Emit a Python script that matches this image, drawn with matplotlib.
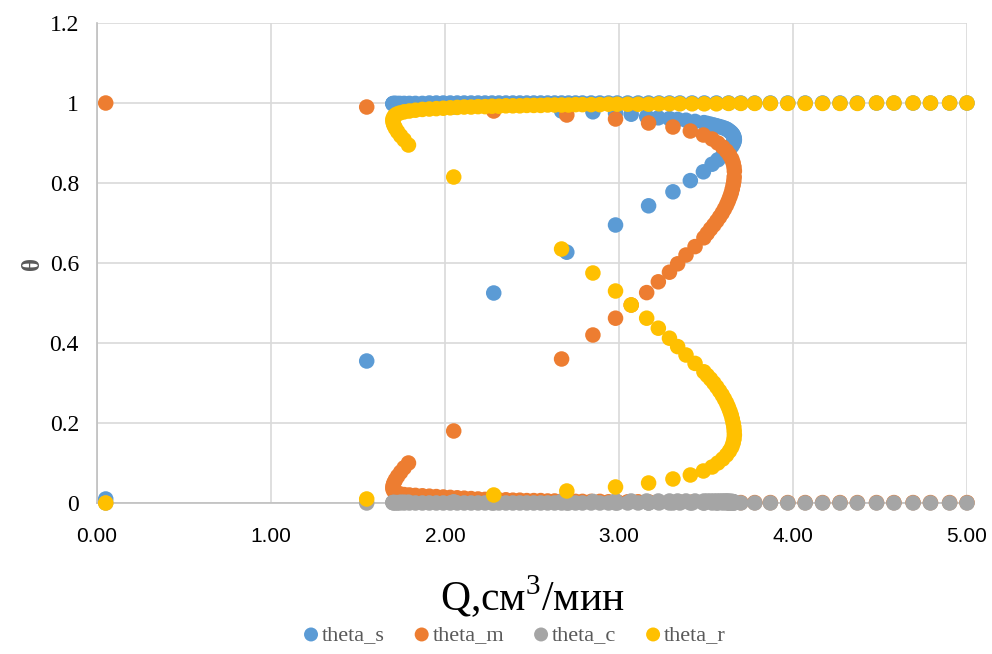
import matplotlib
matplotlib.use("Agg")
import matplotlib.pyplot as plt
from matplotlib.ticker import FormatStrFormatter

plt.rcParams['mathtext.fontset'] = 'custom'
plt.rcParams['mathtext.rm'] = 'Liberation Serif'

# расход Q и доли theta вдоль всей кривой (нижняя ветвь, средняя, верхняя)
Q = [0.05, 1.55, 2.28, 2.70, 2.98, 3.17, 3.31, 3.41, 3.485, 3.535,
     3.568, 3.596, 3.618, 3.635, 3.648, 3.656, 3.661, 3.663,
     3.662, 3.660, 3.656, 3.651, 3.645, 3.637, 3.628, 3.618, 3.606, 3.593,
     3.578, 3.562, 3.545, 3.526, 3.507, 3.488, 3.437, 3.385, 3.337, 3.290,
     3.226, 3.159, 3.070, 2.980, 2.850, 2.670, 2.050, 1.790,
     1.765, 1.745, 1.728, 1.715, 1.706, 1.701, 1.700, 1.703, 1.710, 1.722,
     1.740, 1.765, 1.795, 1.830, 1.870, 1.910, 1.950, 1.990, 2.030, 2.070,
     2.110, 2.150, 2.190, 2.230, 2.270, 2.310, 2.350, 2.390, 2.430, 2.470,
     2.510, 2.550, 2.590, 2.630, 2.670, 2.710, 2.750, 2.790, 2.840, 2.890,
     2.940, 2.990, 3.050, 3.110, 3.170, 3.230, 3.290, 3.350, 3.420, 3.490,
     3.560, 3.630, 3.700, 3.780, 3.870, 3.970, 4.070, 4.170, 4.270, 4.370,
     4.480, 4.580, 4.690, 4.790, 4.900, 5.000]

theta_s = [0.010, 0.355, 0.525, 0.627, 0.695, 0.743, 0.778, 0.806, 0.828, 0.847,
           0.858, 0.868, 0.877, 0.885, 0.892, 0.898, 0.903, 0.908,
           0.912, 0.916, 0.920, 0.923, 0.926, 0.929, 0.932, 0.935, 0.937, 0.939,
           0.941, 0.943, 0.945, 0.947, 0.949, 0.951, 0.954, 0.957, 0.959, 0.961,
           0.963, 0.966, 0.972, 0.975, 0.978, 0.980, 0.990, 0.994,
           0.995, 0.996, 0.997, 0.997, 0.998, 0.998, 0.998, 0.999, 0.999, 0.999,
           0.999, 0.999, 0.999, 0.999, 0.999, 1.000, 1.000, 1.000, 1.000, 1.000,
           1.000, 1.000, 1.000, 1.000, 1.000, 1.000, 1.000, 1.000, 1.000, 1.000,
           1.000, 1.000, 1.000, 1.000, 1.000, 1.000, 1.000, 1.000, 1.000, 1.000,
           1.000, 1.000, 1.000, 1.000, 1.000, 1.000, 1.000, 1.000, 1.000, 1.000,
           1.000, 1.000, 1.000, 1.000, 1.000, 1.000, 1.000, 1.000, 1.000, 1.000,
           1.000, 1.000, 1.000, 1.000, 1.000, 1.000]

theta_m = [1.000, 0.990, 0.980, 0.970, 0.960, 0.950, 0.940, 0.930, 0.920, 0.910,
           0.900, 0.890, 0.880, 0.870, 0.860, 0.850, 0.840, 0.830,
           0.815, 0.805, 0.795, 0.785, 0.775, 0.765, 0.755, 0.745, 0.735, 0.725,
           0.715, 0.705, 0.695, 0.685, 0.674, 0.663, 0.641, 0.620, 0.598, 0.577,
           0.553, 0.526, 0.495, 0.462, 0.420, 0.360, 0.180, 0.100,
           0.088, 0.077, 0.067, 0.058, 0.050, 0.043, 0.037, 0.032, 0.028, 0.025,
           0.023, 0.021, 0.020, 0.019, 0.018, 0.017, 0.016, 0.015, 0.014, 0.013,
           0.012, 0.011, 0.010, 0.009, 0.009, 0.008, 0.008, 0.007, 0.007, 0.006,
           0.006, 0.006, 0.005, 0.005, 0.005, 0.005, 0.004, 0.004, 0.004, 0.004,
           0.003, 0.003, 0.003, 0.003, 0.003, 0.002, 0.002, 0.002, 0.002, 0.002,
           0.002, 0.001, 0.001, 0.001, 0.001, 0.001, 0.001, 0.001, 0.001, 0.001,
           0.001, 0.001, 0.001, 0.001, 0.001, 0.001]

theta_c = [0.000, 0.000, 0.000, 0.000, 0.000, 0.000, 0.000, 0.000, 0.000, 0.000,
           0.000, 0.000, 0.000, 0.000, 0.000, 0.000, 0.000, 0.001,
           0.002, 0.003, 0.003, 0.004, 0.004, 0.004, 0.005, 0.005, 0.005, 0.005,
           0.005, 0.005, 0.005, 0.005, 0.005, 0.005, 0.005, 0.005, 0.005, 0.005,
           0.005, 0.005, 0.005, 0.005, 0.004, 0.004, 0.003, 0.002,
           0.002, 0.002, 0.001, 0.001, 0.001, 0.001, 0.001, 0.001, 0.001, 0.000,
           0.000, 0.000, 0.000, 0.000, 0.000, 0.000, 0.000, 0.000, 0.000, 0.000,
           0.000, 0.000, 0.000, 0.000, 0.000, 0.000, 0.000, 0.000, 0.000, 0.000,
           0.000, 0.000, 0.000, 0.000, 0.000, 0.000, 0.000, 0.000, 0.000, 0.000,
           0.000, 0.000, 0.000, 0.000, 0.000, 0.000, 0.000, 0.000, 0.000, 0.000,
           0.000, 0.000, 0.000, 0.000, 0.000, 0.000, 0.000, 0.000, 0.000, 0.000,
           0.000, 0.000, 0.000, 0.000, 0.000, 0.000]

theta_r = [0.000, 0.010, 0.020, 0.030, 0.040, 0.050, 0.060, 0.070, 0.080, 0.090,
           0.100, 0.110, 0.120, 0.130, 0.140, 0.150, 0.160, 0.170,
           0.180, 0.190, 0.200, 0.210, 0.220, 0.230, 0.240, 0.250, 0.260, 0.270,
           0.280, 0.290, 0.300, 0.310, 0.319, 0.328, 0.349, 0.370, 0.391, 0.412,
           0.437, 0.462, 0.495, 0.530, 0.575, 0.635, 0.815, 0.895,
           0.908, 0.918, 0.928, 0.937, 0.945, 0.952, 0.958, 0.963, 0.968, 0.972,
           0.975, 0.978, 0.980, 0.982, 0.984, 0.985, 0.986, 0.987, 0.988, 0.989,
           0.990, 0.990, 0.991, 0.991, 0.992, 0.992, 0.993, 0.993, 0.993, 0.994,
           0.994, 0.994, 0.995, 0.995, 0.995, 0.995, 0.996, 0.996, 0.996, 0.996,
           0.997, 0.997, 0.997, 0.997, 0.997, 0.998, 0.998, 0.998, 0.998, 0.998,
           0.998, 0.999, 0.999, 0.999, 0.999, 0.999, 0.999, 0.999, 0.999, 0.999,
           1.000, 1.000, 1.000, 1.000, 1.000, 1.000]

series = [("theta_s", theta_s, "#5B9BD5"),
          ("theta_m", theta_m, "#ED7D31"),
          ("theta_c", theta_c, "#A5A5A5"),
          ("theta_r", theta_r, "#FFC000")]

fig = plt.figure(figsize=(9.92, 6.54), dpi=100)
ax = fig.add_axes([0.0978, 0.2309, 0.877, 0.7339])

for i, (name, vals, col) in enumerate(series):
    ax.scatter(Q, vals, s=125, color=col, edgecolors="none", label=name,
               zorder=3 + i, clip_on=False)

ax.set_xlim(0, 5)
ax.set_ylim(0, 1.2)
ax.set_xticks([0, 1, 2, 3, 4, 5])
ax.set_yticks([0, 0.2, 0.4, 0.6, 0.8, 1.0, 1.2])
ax.set_yticklabels(["0", "0.2", "0.4", "0.6", "0.8", "1", "1.2"])
ax.xaxis.set_major_formatter(FormatStrFormatter("%.2f"))
ax.grid(True, color="#D9D9D9", linewidth=1.2, zorder=0)
ax.set_axisbelow(True)
for sp in ["top", "right"]:
    ax.spines[sp].set_visible(False)
for sp in ["left", "bottom"]:
    ax.spines[sp].set_color("#BFBFBF")
    ax.spines[sp].set_linewidth(1.2)
ax.tick_params(axis="y", length=0, pad=13)
ax.tick_params(axis="x", length=0, pad=17)
for lab in ax.get_yticklabels():
    lab.set_fontfamily("Liberation Serif")
    lab.set_fontsize(17)
for lab in ax.get_xticklabels():
    lab.set_fontfamily("Liberation Sans")
    lab.set_fontsize(15)

ax.set_ylabel("θ", fontsize=18, fontweight="bold", color="#595959",
              family="Liberation Serif", labelpad=4)
ax.set_xlabel("Q,см$^3$/мин", fontsize=30, family="Liberation Serif", labelpad=20)

leg = ax.legend(loc="upper center", bbox_to_anchor=(0.48, -0.212), ncol=4, frameon=False,
                prop={"family": "Liberation Serif", "size": 16},
                handlelength=0.7, handletextpad=0.15, columnspacing=1.3,
                markerscale=0.9)
for t in leg.get_texts():
    t.set_color("#595959")

fig.savefig("out.png", dpi=100)
